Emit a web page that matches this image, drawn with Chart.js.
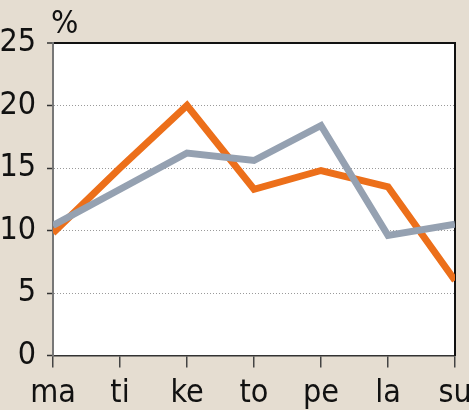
<!DOCTYPE html>
<html lang="fi">
<head>
    <meta charset="UTF-8">
    <title>Viikko</title>
    <script src="https://cdn.jsdelivr.net/npm/chart.js"></script>
    <style>
        body { margin: 0; background: #e5ddd1; }
        canvas { display: block; }
    </style>
</head>
<body>
    <canvas id="weekChart" width="469" height="410"></canvas>
    <script>
        const days = ['ma', 'ti', 'ke', 'to', 'pe', 'la', 'su'];
        const orangeValues = [9.8, 15.0, 20.0, 13.3, 14.8, 13.5, 6.0];
        const greyValues = [10.4, 13.3, 16.2, 15.6, 18.4, 9.6, 10.5];
        const yTicks = [0, 5, 10, 15, 20, 25];

        const labelFont = { family: "'Liberation Sans Narrow', 'DejaVu Sans Condensed', sans-serif", size: 32 };

        // white plot area and the "%" unit above the y axis
        const plotArea = {
            id: 'plotArea',
            beforeDraw(chart) {
                const { ctx, chartArea: a } = chart;
                ctx.save();
                ctx.fillStyle = '#ffffff';
                ctx.fillRect(a.left, a.top, a.right - a.left, a.bottom - a.top);
                ctx.restore();
            },
            afterDraw(chart) {
                const { ctx, chartArea: a } = chart;
                ctx.save();
                ctx.fillStyle = '#111';
                ctx.font = "32px 'Liberation Sans Narrow', 'DejaVu Sans Condensed', sans-serif";
                ctx.textBaseline = 'alphabetic';
                ctx.fillText('%', a.left - 2, 33);
                ctx.restore();
            }
        };

        const ctx = document.getElementById('weekChart').getContext('2d');
        const weekChart = new Chart(ctx, {
            type: 'line',
            data: {
                labels: days,
                datasets: [
                    {
                        label: 'harmaa',
                        data: greyValues,
                        borderColor: '#95a1b1',
                        borderWidth: 7,
                        borderJoinStyle: 'miter',
                        pointRadius: 0,
                        tension: 0,
                        clip: 0
                    },
                    {
                        label: 'oranssi',
                        data: orangeValues,
                        borderColor: '#ec6f1a',
                        borderWidth: 7,
                        borderJoinStyle: 'miter',
                        pointRadius: 0,
                        tension: 0,
                        clip: 0
                    }
                ]
            },
            options: {
                responsive: false,
                animation: false,
                layout: { padding: { top: 43, right: 14, left: 0, bottom: 0 } },
                plugins: {
                    legend: { display: false },
                    tooltip: { enabled: false }
                },
                scales: {
                    x: {
                        offset: false,
                        grid: {
                            drawOnChartArea: false,
                            tickLength: 12,
                            tickColor: '#444',
                            lineWidth: 1.5
                        },
                        border: { color: '#333', width: 1.5 },
                        ticks: {
                            color: '#111',
                            font: labelFont,
                            padding: 7,
                            maxRotation: 0,
                            autoSkip: false
                        },
                        afterFit(scale) {
                            scale.height = 54.5;
                            scale.paddingLeft = 0;
                            scale.paddingRight = 0;
                        }
                    },
                    y: {
                        min: 0,
                        max: 25,
                        afterBuildTicks(scale) {
                            scale.ticks = yTicks.map(v => ({ value: v }));
                        },
                        grid: {
                            color: c => (c.tick && c.tick.value === 25) ? '#111' : '#9a9a9a',
                            lineWidth: c => (c.tick && c.tick.value === 25) ? 2 : 1,
                            tickLength: 6,
                            tickColor: '#333',
                            tickWidth: 1.5,
                            tickBorderDash: []
                        },
                        border: {
                            color: '#777',
                            width: 2,
                            dash: c => (c.tick && c.tick.value === 25) ? [] : [1, 2]
                        },
                        ticks: {
                            color: '#111',
                            font: labelFont,
                            padding: 11
                        },
                        afterFit(scale) {
                            scale.width = 53;
                        }
                    },
                    yRight: {
                        position: 'right',
                        min: 0,
                        max: 25,
                        grid: { display: false, drawTicks: false },
                        border: { color: '#111', width: 2 },
                        ticks: { display: false },
                        afterFit(scale) {
                            scale.width = 0;
                        }
                    }
                }
            },
            plugins: [plotArea]
        });
    </script>
</body>
</html>
